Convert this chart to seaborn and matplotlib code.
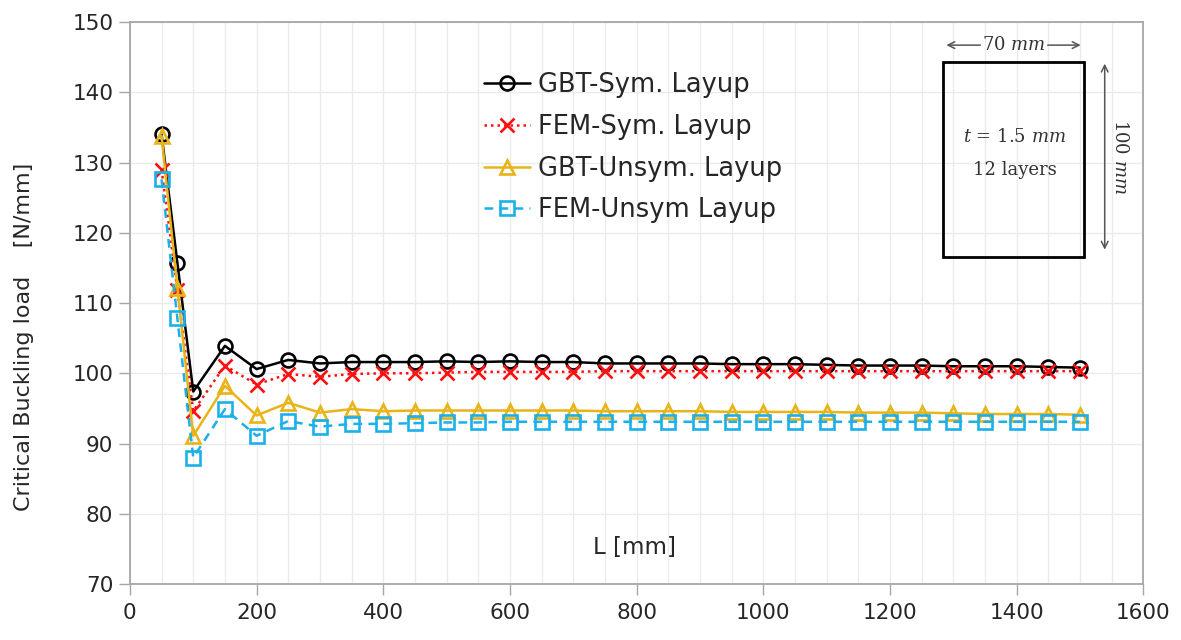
import numpy as np
import matplotlib
matplotlib.use("Agg")
import matplotlib.pyplot as plt
from matplotlib.patches import Rectangle
import seaborn as sns

# Member length L [mm]
length = [50, 75, 100] + list(range(150, 1501, 50))

# Critical buckling load [N/mm]
gbt_sym = [134.0, 115.7, 97.4, 103.9, 100.6, 101.9, 101.4, 101.6, 101.6, 101.6,
           101.7, 101.6, 101.7, 101.6, 101.6, 101.4, 101.4, 101.4, 101.4, 101.3,
           101.3, 101.3, 101.2, 101.1, 101.1, 101.1, 101.0, 101.0, 101.0, 100.9,
           100.8]
fem_sym = [129.0, 111.8, 94.6, 101.1, 98.4, 99.9, 99.5, 99.9, 100.0, 100.0,
           100.1, 100.2, 100.2, 100.2, 100.2, 100.3, 100.3, 100.3, 100.3, 100.3,
           100.3, 100.3, 100.3, 100.3, 100.3, 100.3, 100.3, 100.3, 100.3, 100.3,
           100.3]
gbt_unsym = [133.8, 112.2, 91.1, 98.2, 94.0, 95.8, 94.4, 94.9, 94.6, 94.7,
             94.7, 94.7, 94.7, 94.7, 94.7, 94.6, 94.6, 94.6, 94.6, 94.5,
             94.5, 94.5, 94.5, 94.4, 94.4, 94.4, 94.3, 94.2, 94.2, 94.2,
             94.1]
fem_unsym = [127.6, 107.8, 88.0, 94.9, 91.1, 93.2, 92.4, 92.8, 92.8, 92.9,
             93.0, 93.0, 93.1, 93.1, 93.1, 93.1, 93.1, 93.1, 93.1, 93.1,
             93.1, 93.1, 93.1, 93.1, 93.1, 93.1, 93.1, 93.1, 93.1, 93.1,
             93.1]

series = [
    ("GBT-Sym. Layup", gbt_sym, dict(color="black", marker="o", linestyle="-")),
    ("FEM-Sym. Layup", fem_sym, dict(color="#FF1010", marker="x", linestyle=(0, (1, 1.6)))),
    ("GBT-Unsym. Layup", gbt_unsym, dict(color="#E8B418", marker="^", linestyle="-")),
    ("FEM-Unsym Layup", fem_unsym, dict(color="#1AB0EA", marker="s", linestyle=(0, (3.5, 2.5)))),
]

sns.set_theme(style="white")
plt.rcParams["font.family"] = ["DejaVu Sans"]
plt.rcParams["mathtext.fontset"] = "dejavuserif"

fig = plt.figure(figsize=(11.81, 6.4), dpi=100)
ax = fig.add_axes([0.110, 0.0875, 0.858, 0.878])

for name, values, style in series:
    sns.lineplot(x=length, y=values, ax=ax, label=name, linewidth=1.8,
                 markersize=10, markerfacecolor="none",
                 markeredgecolor=style["color"], markeredgewidth=1.9,
                 **style)

ax.set_xlim(0, 1600)
ax.set_ylim(70, 150)
ax.set_xticks(np.arange(0, 1601, 200))
ax.set_xticks(np.arange(0, 1601, 50), minor=True)
ax.set_yticks(np.arange(70, 151, 10))
ax.grid(True, which="both", axis="x", color="#EBEBEB", linewidth=1)
ax.grid(True, which="major", axis="y", color="#EBEBEB", linewidth=1)
ax.set_axisbelow(True)

ax.tick_params(axis="both", which="major", direction="out", length=8,
               width=1, color="#A6A6A6", labelsize=15.5, pad=4,
               labelcolor="#262626", bottom=True, left=True)
ax.tick_params(axis="x", which="minor", length=0)
ax.tick_params(axis="x", which="major", pad=6)
for sp in ax.spines.values():
    sp.set_color("#A6A6A6")
    sp.set_linewidth(1.3)

ax.set_xlabel("L [mm]", fontsize=16.5, color="#262626")
ax.xaxis.set_label_coords(0.498, 0.085)
ax.set_ylabel("Critical Buckling load    [N/mm]", fontsize=16, color="#262626")
ax.yaxis.set_label_coords(-0.095, 0.44)

leg = ax.legend(loc="upper left", bbox_to_anchor=(0.339, 0.93), frameon=False,
                fontsize=18.5, handlelength=1.8, handletextpad=0.3,
                labelspacing=0.62, borderaxespad=0)

# cross-section sketch
tr = ax.transAxes
ax.add_patch(Rectangle((0.802, 0.582), 0.140, 0.347, transform=tr,
                       fill=False, edgecolor="black", linewidth=2, zorder=5))
ax.text(0.872, 0.959, r"70 $mm$", transform=tr, ha="center", va="center",
        fontsize=13, family="DejaVu Serif", color="#333333")
arrow = dict(arrowstyle="->", color="#555555", lw=1.1)
ax.annotate("", xy=(0.803, 0.959), xytext=(0.842, 0.959), xycoords=tr,
            textcoords=tr, arrowprops=arrow)
ax.annotate("", xy=(0.941, 0.959), xytext=(0.903, 0.959), xycoords=tr,
            textcoords=tr, arrowprops=arrow)
ax.annotate("", xy=(0.962, 0.931), xytext=(0.962, 0.590), xycoords=tr,
            textcoords=tr, arrowprops=dict(arrowstyle="<->", color="#555555", lw=1.1))
ax.text(0.977, 0.76, r"100 $mm$", transform=tr, ha="center", va="center",
        rotation=-90, fontsize=13, family="DejaVu Serif", color="#333333")
ax.text(0.873, 0.795, r"$t$ = 1.5 $mm$", transform=tr, ha="center", va="center",
        fontsize=13, family="DejaVu Serif", color="#333333")
ax.text(0.873, 0.737, "12 layers", transform=tr, ha="center", va="center",
        fontsize=13, family="DejaVu Serif", color="#333333")

fig.savefig("out.png", dpi=100, facecolor="white")
